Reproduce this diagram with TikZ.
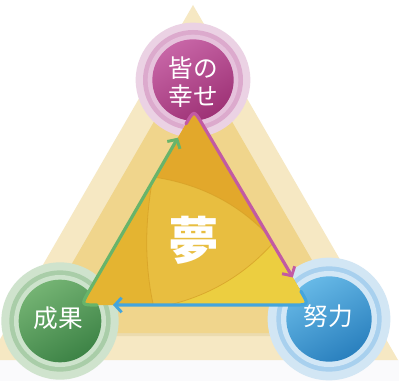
\documentclass[tikz,border=0pt]{standalone}
\usepackage{fontspec}
\newfontfamily\jp{Noto Sans CJK JP}
\usetikzlibrary{calc,arrows.meta}
\definecolor{bgwhite}{HTML}{FAFAFC}
\definecolor{outerpale}{HTML}{F6E8C3}
\definecolor{midtan}{HTML}{F0D58C}
\definecolor{segtop}{HTML}{E2A82B}
\definecolor{segleft}{HTML}{E4B431}
\definecolor{segcenter}{HTML}{E8BE40}
\definecolor{segbr}{HTML}{ECCE40}
\definecolor{arcline}{HTML}{D29A22}
\definecolor{arrgreen}{HTML}{68B46A}
\definecolor{arrpink}{HTML}{C25AA3}
\definecolor{arrblue}{HTML}{44A5DD}
\definecolor{pinkhalo}{HTML}{EBD2E4}
\definecolor{pinkring}{HTML}{DCAACD}
\definecolor{pinkring2}{HTML}{E6C2DC}
\definecolor{pinkdiscA}{HTML}{C765A6}
\definecolor{pinkdiscB}{HTML}{9E3276}
\definecolor{greenhalo}{HTML}{CFE3CD}
\definecolor{greenring}{HTML}{A9CDA8}
\definecolor{greenring2}{HTML}{CDE3CC}
\definecolor{greendiscA}{HTML}{74B373}
\definecolor{greendiscB}{HTML}{3D8346}
\definecolor{bluehalo}{HTML}{D2E6F4}
\definecolor{bluering}{HTML}{A8D0EE}
\definecolor{bluering2}{HTML}{D2E7F6}
\definecolor{bluediscA}{HTML}{66B8E6}
\definecolor{bluediscB}{HTML}{2A80BE}
\tikzset{
  label/.style={text=white, font=\jp\fontsize{18.5pt}{21.5pt}\selectfont, align=center, inner sep=0pt},
  dream/.style={text=white, font=\jp\bfseries\fontsize{38pt}{40pt}\selectfont, inner sep=0pt},
  flow/.style={line width=2.4pt, line cap=round, line join=round,
    -{Straight Barb[length=5pt,width=11pt,line width=2.2pt]}},
}
\begin{document}
\begin{tikzpicture}[x=0.75pt,y=-0.75pt]
\useasboundingbox (0,0) rectangle (399,381);
\clip (0,0) rectangle (399,381);
\fill[white] (0,0) rectangle (399,381);
\fill[bgwhite] (0,360) rectangle (399,381);
% background triangles
\fill[outerpale] (193,5) -- (398,360) -- (-12,360) -- cycle;
\fill[midtan!85!black, opacity=0.25] (193,56) -- (356,336) -- (30,336) -- cycle;
\fill[midtan] (193,54) -- (354,333) -- (32,333) -- cycle;
% circle coordinates
\coordinate (cp) at (193,80);
\coordinate (cg) at (60,321);
\coordinate (cb) at (329,319);
% pink circle
\fill[pinkhalo] (cp) circle[radius=43pt];
\fill[pinkring] (cp) circle[radius=37.5pt];
\fill[pinkring2] (cp) circle[radius=34pt];
\shade[top color=pinkdiscA, bottom color=pinkdiscB, shading angle=30] (cp) circle[radius=30.5pt];
% green circle
\fill[greenhalo] (cg) circle[radius=44pt];
\fill[greenring] (cg) circle[radius=38pt];
\fill[greenring2] (cg) circle[radius=34.5pt];
\shade[top color=greendiscA, bottom color=greendiscB, shading angle=30] (cg) circle[radius=31pt];
% blue circle
\fill[bluehalo] (cb) circle[radius=46pt];
\fill[bluering] (cb) circle[radius=39.5pt];
\fill[bluering2] (cb) circle[radius=36pt];
\shade[top color=bluediscA, bottom color=bluediscB, shading angle=30] (cb) circle[radius=32pt];
% inner triangle
\coordinate (P) at (194,110);
\coordinate (L) at (81,305);
\coordinate (R) at (309,305);
\def\tri{($(P)!12pt!(L)$) .. controls (P) .. ($(P)!12pt!(R)$) -- ($(R)!12pt!(P)$) .. controls (R) .. ($(R)!12pt!(L)$) -- ($(L)!12pt!(R)$) .. controls (L) .. ($(L)!12pt!(P)$) -- cycle}
\fill[segleft] \tri;
\begin{scope}
  \clip \tri;
  \fill[segtop] (153,177) .. controls (201,184) and (242,205) .. (274,242) -- (330,242) -- (330,60) -- (60,60) -- (60,177) -- cycle;
  \fill[segbr] (274,242) .. controls (242,278) and (202,300) .. (154,308) -- (154,330) -- (340,330) -- (340,242) -- cycle;
  \fill[segcenter] (153,177) .. controls (201,184) and (242,205) .. (274,242) .. controls (242,278) and (202,300) .. (154,308) .. controls (144,265) and (145,220) .. (153,177) -- cycle;
  \draw[arcline, line width=0.6pt, opacity=0.6] (153,177) .. controls (201,184) and (242,205) .. (274,242) .. controls (242,278) and (202,300) .. (154,308) .. controls (144,265) and (145,220) .. (153,177);
\end{scope}
% arrows
\coordinate (gS) at ($(L)!12pt!(R)$);
\coordinate (gE) at ($(P)!24pt!(L)$);
\coordinate (pS) at ($(P)!12pt!(L)$);
\coordinate (pE) at ($(R)!24pt!(P)$);
\coordinate (bS) at ($(R)!12pt!(P)$);
\coordinate (bE) at ($(L)!24pt!(R)$);
\draw[flow, arrgreen] (gS) .. controls (L) .. ($(L)!12pt!(P)$) -- (gE);
\draw[flow, arrpink] (pS) .. controls (P) .. ($(P)!12pt!(R)$) -- (pE);
\draw[flow, arrblue] (bS) .. controls (R) .. ($(R)!12pt!(L)$) -- (bE);
% labels
\node[label] (tp) at (193,82) {皆の\\幸せ};
\node[label] (tg) at (58,318) {成果};
\node[label] (tb) at (328,316) {努力};
\node[dream] (dm) at (194,240) {夢};
\end{tikzpicture}
\end{document}
